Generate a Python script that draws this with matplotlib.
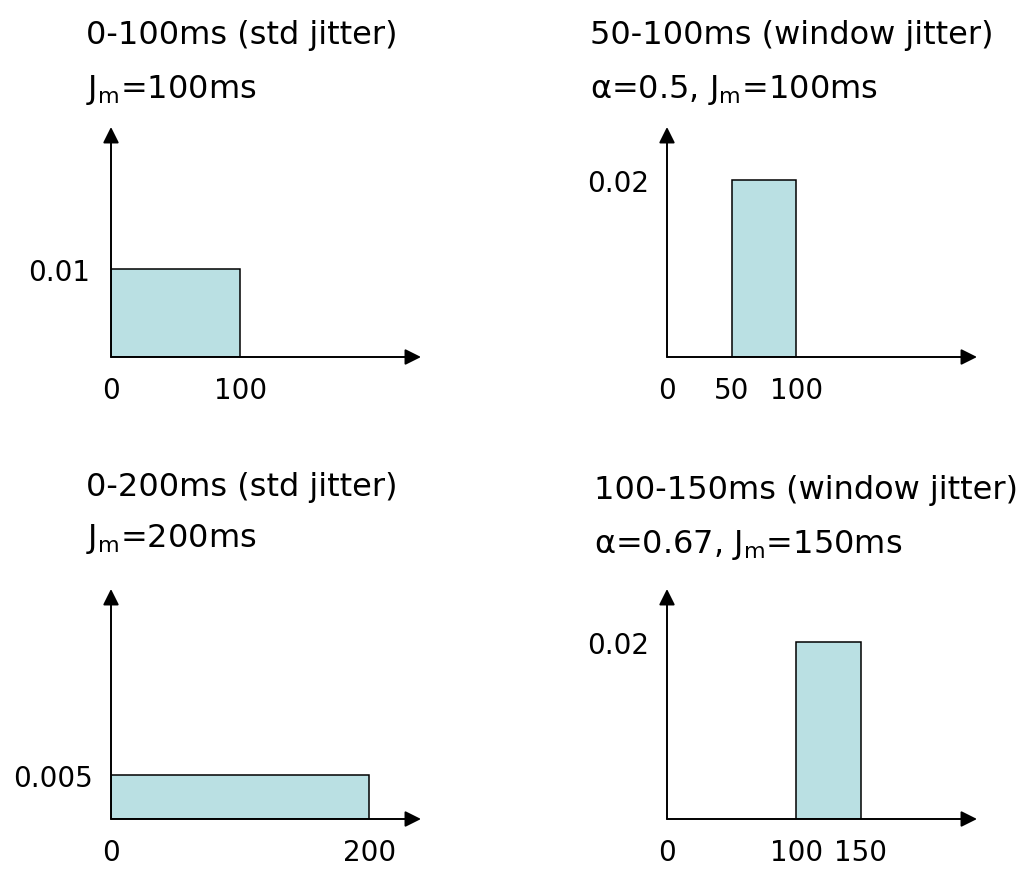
import matplotlib
matplotlib.use('Agg')
import matplotlib.pyplot as plt

plt.rcParams['font.family'] = ['DejaVu Sans']
plt.rcParams['mathtext.fontset'] = 'dejavusans'

# panel data: uniform jitter distributions
line1 = ['0-100ms (std jitter)', '50-100ms (window jitter)',
         '0-200ms (std jitter)', '100-150ms (window jitter)']
line2 = [r'J$_\mathrm{m}$=100ms', r'α=0.5, J$_\mathrm{m}$=100ms',
         r'J$_\mathrm{m}$=200ms', r'α=0.67, J$_\mathrm{m}$=150ms']
starts = [0, 50, 0, 100]
ends = [100, 100, 200, 150]
heights = [0.01, 0.02, 0.005, 0.02]
xticks = [[0, 100], [0, 50, 100], [0, 200], [0, 100, 150]]
yticks = [[0.01], [0.02], [0.005], [0.02]]
ylabels = [['0.01'], ['0.02'], ['0.005'], ['0.02']]

W, H = 1024, 879
fig = plt.figure(figsize=(W / 100, H / 100), dpi=100)

# pixel layout of each panel: axis left, axis bottom, title x, title baselines
ax_left = [111, 667, 111, 667]
ax_bottom = [358, 358, 820, 820]
ax_w, ax_h = 310, 230
title_x = [86, 590, 86, 594]
base1 = [44, 44, 496, 499]
base2 = [98, 98, 547, 553]
ypad = [15, 13, 13, 13]

tfs = 23
fs = 20
for i in range(4):
    ax = fig.add_axes([ax_left[i] / W, 1 - ax_bottom[i] / H,
                       ax_w / W, ax_h / H])
    ax.bar(starts[i], heights[i], width=ends[i] - starts[i], align='edge',
           color='#bae0e3', edgecolor='black', linewidth=1.1, zorder=2)
    ax.set_xlim(0, 240)
    ax.set_ylim(0, 0.026)
    for s in ax.spines.values():
        s.set_visible(False)
    ax.annotate('', xy=(1, 0), xytext=(0, 0), xycoords='axes fraction',
                arrowprops=dict(arrowstyle='-|>', color='black', lw=1.4,
                                mutation_scale=24, shrinkA=0, shrinkB=0),
                annotation_clip=False)
    ax.annotate('', xy=(0, 1), xytext=(0, 0), xycoords='axes fraction',
                arrowprops=dict(arrowstyle='-|>', color='black', lw=1.4,
                                mutation_scale=24, shrinkA=0, shrinkB=0),
                annotation_clip=False)
    ax.set_xticks(xticks[i])
    ax.set_xticklabels([str(v) for v in xticks[i]])
    ax.set_yticks(yticks[i])
    ax.set_yticklabels(ylabels[i])
    ax.tick_params(axis='x', length=0, pad=14, labelsize=fs)
    ax.tick_params(axis='y', length=0, pad=ypad[i], labelsize=fs)
    fig.text(title_x[i] / W, 1 - base1[i] / H, line1[i], fontsize=tfs,
             va='baseline', ha='left')
    fig.text(title_x[i] / W, 1 - base2[i] / H, line2[i], fontsize=tfs,
             va='baseline', ha='left')

fig.savefig('out.png', dpi=100)
